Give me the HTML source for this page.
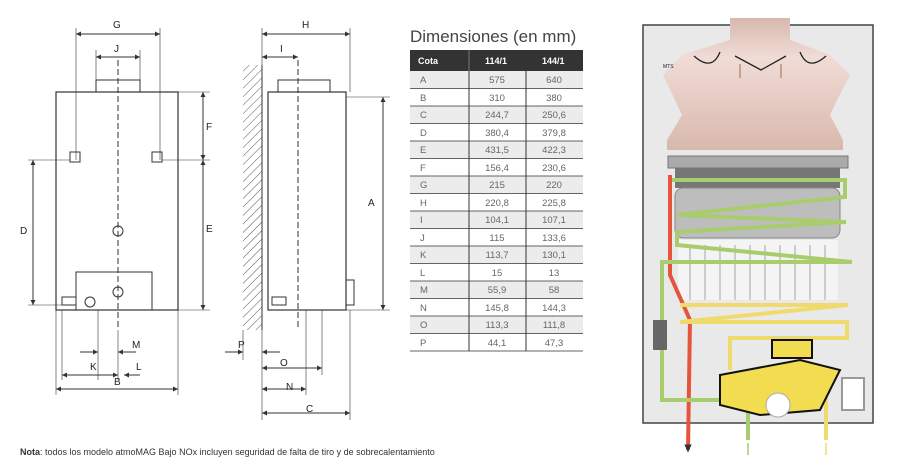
<!DOCTYPE html><html><head><style>body{margin:0;background:#fff}svg{display:block}text{font-family:"Liberation Sans",sans-serif}</style></head><body>
<svg width="911" height="474" viewBox="0 0 911 474" xmlns="http://www.w3.org/2000/svg">
<defs>
<marker id="a" viewBox="0 0 10 10" refX="10" refY="5" markerWidth="5" markerHeight="5" orient="auto-start-reverse"><path d="M0 0L10 5L0 10z" fill="#333"/></marker>
<pattern id="h" width="6" height="6" patternUnits="userSpaceOnUse" patternTransform="rotate(45)"><line x1="0" y1="0" x2="0" y2="6" stroke="#555" stroke-width="1"/></pattern>
<linearGradient id="g" x1="0" y1="0" x2="0" y2="1"><stop offset="0" stop-color="#d8b8ad"/><stop offset="0.3" stop-color="#f0dcd6"/><stop offset="1" stop-color="#d8b8ad"/></linearGradient>
</defs>
<g stroke="#333" fill="none" stroke-width="1">
<rect x="56" y="92" width="122" height="218" fill="#fff" stroke-width="1.2"/>
<rect x="96" y="80" width="44" height="12"/>
<rect x="76" y="272" width="76" height="38"/>
<rect x="70" y="152" width="10" height="10"/><rect x="152" y="152" width="10" height="10"/>
<circle cx="118" cy="231" r="5"/><circle cx="118" cy="292" r="5"/><circle cx="90" cy="302" r="5"/>
<rect x="62" y="297" width="14" height="8"/>
<line x1="118" y1="60" x2="118" y2="330" stroke-dasharray="6 3"/>
<line x1="76" y1="28" x2="76" y2="160" stroke-width=".6"/><line x1="160" y1="28" x2="160" y2="160" stroke-width=".6"/>
<line x1="96" y1="50" x2="96" y2="80" stroke-width=".6"/><line x1="140" y1="50" x2="140" y2="80" stroke-width=".6"/>
<line x1="76" y1="34" x2="160" y2="34" marker-start="url(#a)" marker-end="url(#a)"/>
<line x1="96" y1="57" x2="140" y2="57" marker-start="url(#a)" marker-end="url(#a)"/>
<line x1="178" y1="92" x2="210" y2="92" stroke-width=".6"/><line x1="162" y1="160" x2="210" y2="160" stroke-width=".6"/><line x1="178" y1="310" x2="210" y2="310" stroke-width=".6"/>
<line x1="203" y1="92" x2="203" y2="160" marker-start="url(#a)" marker-end="url(#a)"/>
<line x1="203" y1="160" x2="203" y2="310" marker-start="url(#a)" marker-end="url(#a)"/>
<line x1="28" y1="160" x2="70" y2="160" stroke-width=".6"/><line x1="28" y1="305" x2="62" y2="305" stroke-width=".6"/>
<line x1="33" y1="160" x2="33" y2="305" marker-start="url(#a)" marker-end="url(#a)"/>
<line x1="56" y1="310" x2="56" y2="395" stroke-width=".6"/><line x1="178" y1="310" x2="178" y2="395" stroke-width=".6"/>
<line x1="62" y1="310" x2="62" y2="380" stroke-width=".6"/><line x1="98" y1="310" x2="98" y2="380" stroke-width=".6"/><line x1="118" y1="330" x2="118" y2="380" stroke-width=".6"/>
<line x1="56" y1="389" x2="178" y2="389" marker-start="url(#a)" marker-end="url(#a)"/>
<line x1="62" y1="375" x2="118" y2="375" marker-start="url(#a)" marker-end="url(#a)"/>
<line x1="80" y1="352" x2="98" y2="352" marker-end="url(#a)"/><line x1="136" y1="352" x2="118" y2="352" marker-end="url(#a)"/>
<line x1="140" y1="375" x2="124" y2="375" marker-end="url(#a)"/>
<rect x="243" y="65" width="19" height="265" fill="url(#h)" stroke="none"/>
<line x1="262" y1="65" x2="262" y2="330"/>
<rect x="268" y="92" width="78" height="218" fill="#fff" stroke-width="1.2"/>
<rect x="278" y="80" width="52" height="12"/>
<rect x="346" y="280" width="8" height="25"/>
<rect x="272" y="297" width="14" height="8"/>
<line x1="298" y1="60" x2="298" y2="330" stroke-dasharray="6 3"/>
<line x1="262" y1="28" x2="262" y2="65" stroke-width=".6"/><line x1="350" y1="28" x2="350" y2="92" stroke-width=".6"/>
<line x1="262" y1="34" x2="350" y2="34" marker-start="url(#a)" marker-end="url(#a)"/>
<line x1="262" y1="57" x2="298" y2="57" marker-start="url(#a)" marker-end="url(#a)"/>
<line x1="346" y1="97" x2="390" y2="97" stroke-width=".6"/><line x1="346" y1="310" x2="390" y2="310" stroke-width=".6"/>
<line x1="383" y1="97" x2="383" y2="310" marker-start="url(#a)" marker-end="url(#a)"/>
<line x1="262" y1="330" x2="262" y2="420" stroke-width=".6"/><line x1="350" y1="310" x2="350" y2="420" stroke-width=".6"/>
<line x1="306" y1="310" x2="306" y2="395" stroke-width=".6"/><line x1="322" y1="310" x2="322" y2="375" stroke-width=".6"/><line x1="243" y1="330" x2="243" y2="360" stroke-width=".6"/>
<line x1="262" y1="413" x2="350" y2="413" marker-start="url(#a)" marker-end="url(#a)"/>
<line x1="262" y1="389" x2="306" y2="389" marker-start="url(#a)" marker-end="url(#a)"/>
<line x1="262" y1="368" x2="322" y2="368" marker-start="url(#a)" marker-end="url(#a)"/>
<line x1="225" y1="352" x2="243" y2="352" marker-end="url(#a)"/><line x1="280" y1="352" x2="262" y2="352" marker-end="url(#a)"/>
</g>
<g font-size="10" fill="#222">
<text x="113" y="28">G</text><text x="114" y="52">J</text><text x="206" y="130">F</text><text x="206" y="232">E</text><text x="20" y="234">D</text>
<text x="132" y="348">M</text><text x="90" y="370">K</text><text x="136" y="370">L</text><text x="114" y="385">B</text>
<text x="302" y="28">H</text><text x="280" y="52">I</text><text x="368" y="206">A</text><text x="238" y="348">P</text>
<text x="280" y="366">O</text><text x="286" y="390">N</text><text x="306" y="412">C</text>
</g>
<text x="20" y="455" font-size="9" fill="#333"><tspan font-weight="bold">Nota</tspan>: todos los modelo atmoMAG Bajo NOx incluyen seguridad de falta de tiro y de sobrecalentamiento</text>
<text x="410" y="42" font-size="17" fill="#444">Dimensiones (en mm)</text>
<rect x="410" y="50" width="173" height="21" fill="#333"/>
<line x1="469" y1="50" x2="469" y2="71" stroke="#777"/>
<g font-size="9" fill="#fff" font-weight="bold"><text x="418" y="64">Cota</text><text x="485" y="64">114/1</text><text x="542" y="64">144/1</text></g>
<g font-size="9.5" fill="#666">
<rect x="410" y="71" width="173" height="17.5" fill="#ececec"/><rect x="410" y="106" width="173" height="17.5" fill="#ececec"/><rect x="410" y="141" width="173" height="17.5" fill="#ececec"/><rect x="410" y="176" width="173" height="17.5" fill="#ececec"/><rect x="410" y="211" width="173" height="17.5" fill="#ececec"/><rect x="410" y="246" width="173" height="17.5" fill="#ececec"/><rect x="410" y="281" width="173" height="17.5" fill="#ececec"/><rect x="410" y="316" width="173" height="17.5" fill="#ececec"/>
<g stroke="#333" stroke-width=".8"><line x1="410" y1="88.5" x2="583" y2="88.5"/><line x1="410" y1="106" x2="583" y2="106"/><line x1="410" y1="123.5" x2="583" y2="123.5"/><line x1="410" y1="141" x2="583" y2="141"/><line x1="410" y1="158.5" x2="583" y2="158.5"/><line x1="410" y1="176" x2="583" y2="176"/><line x1="410" y1="193.5" x2="583" y2="193.5"/><line x1="410" y1="211" x2="583" y2="211"/><line x1="410" y1="228.5" x2="583" y2="228.5"/><line x1="410" y1="246" x2="583" y2="246"/><line x1="410" y1="263.5" x2="583" y2="263.5"/><line x1="410" y1="281" x2="583" y2="281"/><line x1="410" y1="298.5" x2="583" y2="298.5"/><line x1="410" y1="316" x2="583" y2="316"/><line x1="410" y1="333.5" x2="583" y2="333.5"/><line x1="410" y1="351" x2="583" y2="351"/></g>
<line x1="469" y1="71" x2="469" y2="351" stroke="#333"/><line x1="526" y1="71" x2="526" y2="351" stroke="#333"/>
<g text-anchor="middle">
<text x="420" y="83" text-anchor="start">A</text><text x="497" y="83">575</text><text x="554" y="83">640</text>
<text x="420" y="101" text-anchor="start">B</text><text x="497" y="101">310</text><text x="554" y="101">380</text>
<text x="420" y="118" text-anchor="start">C</text><text x="497" y="118">244,7</text><text x="554" y="118">250,6</text>
<text x="420" y="136" text-anchor="start">D</text><text x="497" y="136">380,4</text><text x="554" y="136">379,8</text>
<text x="420" y="153" text-anchor="start">E</text><text x="497" y="153">431,5</text><text x="554" y="153">422,3</text>
<text x="420" y="171" text-anchor="start">F</text><text x="497" y="171">156,4</text><text x="554" y="171">230,6</text>
<text x="420" y="188" text-anchor="start">G</text><text x="497" y="188">215</text><text x="554" y="188">220</text>
<text x="420" y="206" text-anchor="start">H</text><text x="497" y="206">220,8</text><text x="554" y="206">225,8</text>
<text x="420" y="223" text-anchor="start">I</text><text x="497" y="223">104,1</text><text x="554" y="223">107,1</text>
<text x="420" y="241" text-anchor="start">J</text><text x="497" y="241">115</text><text x="554" y="241">133,6</text>
<text x="420" y="258" text-anchor="start">K</text><text x="497" y="258">113,7</text><text x="554" y="258">130,1</text>
<text x="420" y="276" text-anchor="start">L</text><text x="497" y="276">15</text><text x="554" y="276">13</text>
<text x="420" y="293" text-anchor="start">M</text><text x="497" y="293">55,9</text><text x="554" y="293">58</text>
<text x="420" y="311" text-anchor="start">N</text><text x="497" y="311">145,8</text><text x="554" y="311">144,3</text>
<text x="420" y="328" text-anchor="start">O</text><text x="497" y="328">113,3</text><text x="554" y="328">111,8</text>
<text x="420" y="346" text-anchor="start">P</text><text x="497" y="346">44,1</text><text x="554" y="346">47,3</text>
</g></g>
<rect x="643" y="25" width="230" height="398" fill="#e9e9e9" stroke="#444" stroke-width="1.5"/>
<path d="M730 18 L730 40 L682 55 L663 75 L675 100 L682 115 L667 140 L667 150 L843 150 L843 140 L830 115 L837 100 L850 75 L830 55 L790 40 L790 18Z" fill="url(#g)"/>
<g stroke="#222" stroke-width="1.3" fill="none"><path d="M735 56 L761 70 L786 56"/><path d="M694 56 Q712 72 720 52"/><path d="M800 52 Q808 72 826 56"/></g>
<text x="663" y="68" font-size="5" fill="#222">MTS</text>
<rect x="668" y="156" width="180" height="12" fill="#aaa" stroke="#777"/>
<rect x="675" y="168" width="165" height="20" fill="#777"/>
<rect x="675" y="188" width="165" height="50" rx="8" fill="#bdbdbd" stroke="#888"/>
<rect x="678" y="240" width="160" height="60" fill="#f4f4f4"/>
<g stroke="#ccc" stroke-width="2"><line x1="690" y1="245" x2="690" y2="300"/><line x1="705" y1="245" x2="705" y2="300"/><line x1="720" y1="245" x2="720" y2="300"/><line x1="735" y1="245" x2="735" y2="300"/><line x1="750" y1="245" x2="750" y2="300"/><line x1="765" y1="245" x2="765" y2="300"/><line x1="780" y1="245" x2="780" y2="300"/><line x1="795" y1="245" x2="795" y2="300"/><line x1="810" y1="245" x2="810" y2="300"/><line x1="825" y1="245" x2="825" y2="300"/></g>
<g fill="none" stroke-width="4">
<path d="M670 175 L670 275 L690 320 L688 450" stroke="#e5553d"/>
<path d="M672 180 L845 180 L845 197 L677 215 L846 222 L677 232 L677 245 L852 262 L662 262 L662 400 L720 400" stroke="#a9cd6c"/>
<path d="M748 400 L748 440" stroke="#a9cd6c"/>
<path d="M680 305 L848 305 L680 322 L847 322 L847 338 L730 338 L730 370" stroke="#eedb6c"/>
<path d="M826 375 L826 440" stroke="#eedb6c"/>
</g>
<rect x="653" y="320" width="14" height="30" fill="#666"/>
<path d="M720 375 L800 360 L840 370 L820 410 L760 415 L720 405Z" fill="#f2dd50" stroke="#111" stroke-width="2"/>
<rect x="772" y="340" width="40" height="18" fill="#f2dd50" stroke="#111" stroke-width="2"/>
<circle cx="778" cy="405" r="12" fill="#fff" stroke="#aaa"/>
<rect x="842" y="378" width="22" height="32" fill="#fff" stroke="#999" stroke-width="2"/>
<g stroke-width="1.5" fill="none"><path d="M688 440 L688 452" stroke="#e5553d" marker-end="url(#a)"/><path d="M748 455 L748 443" stroke="#a9cd6c"/><path d="M826 455 L826 443" stroke="#eedb6c"/></g>
<g stroke="#c9a090" stroke-width="2"><line x1="740" y1="78" x2="740" y2="64"/><line x1="781" y1="78" x2="781" y2="64"/></g>
</svg></body></html>
